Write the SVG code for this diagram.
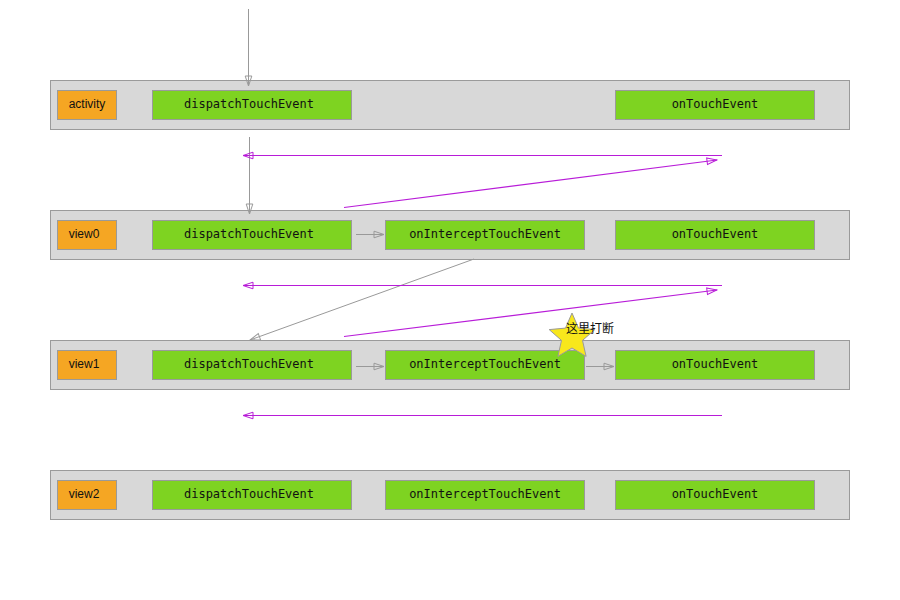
<svg xmlns="http://www.w3.org/2000/svg" width="900" height="600" viewBox="0 0 900 600">
<style>
.row{fill:#d8d8d8;stroke:#9a9a9a;stroke-width:1}
.lbl{fill:#f5a623;stroke:#9a9a9a;stroke-width:1}
.fn{fill:#7ed321;stroke:#9a9a9a;stroke-width:1}
.lt{font-family:"Liberation Sans",Arial,sans-serif;font-size:12px;fill:#111;text-anchor:middle}
.ft{font-family:"DejaVu Sans Mono","Liberation Mono",monospace;font-size:12px;fill:#111;text-anchor:middle}
.g{stroke:#999;stroke-width:1;fill:none}
.p{stroke:#b81cd8;stroke-width:1.2;fill:none}
</style>
<defs>
<marker id="ag" markerUnits="userSpaceOnUse" markerWidth="12" markerHeight="9" refX="11" refY="4.5" orient="auto"><path d="M1,1.2 L11,4.5 L1,7.8 Z" fill="none" stroke="#999" stroke-width="1"/></marker>
<marker id="ap" markerUnits="userSpaceOnUse" markerWidth="12" markerHeight="9" refX="11" refY="4.5" orient="auto"><path d="M1,1.2 L11,4.5 L1,7.8 Z" fill="none" stroke="#b81cd8" stroke-width="1"/></marker>
</defs>
<g id="activity">
<rect class="row" x="50.5" y="80.5" width="799" height="49"/>
<rect class="lbl" x="57.5" y="90.5" width="59" height="29"/><text class="lt" x="87" y="108">activity</text>
<rect class="fn" x="152.5" y="90.5" width="199" height="29"/><text class="ft" x="249" y="108">dispatchTouchEvent</text>
<rect class="fn" x="615.5" y="90.5" width="199" height="29"/><text class="ft" x="715" y="108">onTouchEvent</text>
</g>
<g id="view0">
<rect class="row" x="50.5" y="210.5" width="799" height="49"/>
<rect class="lbl" x="57.5" y="220.5" width="59" height="29"/><text class="lt" x="84" y="238">view0</text>
<rect class="fn" x="152.5" y="220.5" width="199" height="29"/><text class="ft" x="249" y="238">dispatchTouchEvent</text>
<rect class="fn" x="385.5" y="220.5" width="199" height="29"/><text class="ft" x="485" y="238">onInterceptTouchEvent</text>
<rect class="fn" x="615.5" y="220.5" width="199" height="29"/><text class="ft" x="715" y="238">onTouchEvent</text>
</g>
<g id="view1">
<rect class="row" x="50.5" y="340.5" width="799" height="49"/>
<rect class="lbl" x="57.5" y="350.5" width="59" height="29"/><text class="lt" x="84" y="368">view1</text>
<rect class="fn" x="152.5" y="350.5" width="199" height="29"/><text class="ft" x="249" y="368">dispatchTouchEvent</text>
<rect class="fn" x="385.5" y="350.5" width="199" height="29"/><text class="ft" x="485" y="368">onInterceptTouchEvent</text>
<rect class="fn" x="615.5" y="350.5" width="199" height="29"/><text class="ft" x="715" y="368">onTouchEvent</text>
</g>
<g id="view2">
<rect class="row" x="50.5" y="470.5" width="799" height="49"/>
<rect class="lbl" x="57.5" y="480.5" width="59" height="29"/><text class="lt" x="84" y="498">view2</text>
<rect class="fn" x="152.5" y="480.5" width="199" height="29"/><text class="ft" x="249" y="498">dispatchTouchEvent</text>
<rect class="fn" x="385.5" y="480.5" width="199" height="29"/><text class="ft" x="485" y="498">onInterceptTouchEvent</text>
<rect class="fn" x="615.5" y="480.5" width="199" height="29"/><text class="ft" x="715" y="498">onTouchEvent</text>
</g>
<g id="connectors">
<line class="g" x1="248.5" y1="9" x2="248.5" y2="86" marker-end="url(#ag)"/>
<line class="g" x1="249.5" y1="137" x2="249.5" y2="214" marker-end="url(#ag)"/>
<line class="p" x1="722" y1="155.5" x2="243" y2="155.5" marker-end="url(#ap)"/>
<line class="p" x1="344" y1="207.5" x2="717" y2="160" marker-end="url(#ap)"/>
<line class="g" x1="356" y1="234.5" x2="384" y2="234.5" marker-end="url(#ag)"/>
<line class="g" x1="474" y1="259" x2="250" y2="340" marker-end="url(#ag)"/>
<line class="p" x1="722" y1="285.5" x2="243" y2="285.5" marker-end="url(#ap)"/>
<line class="p" x1="344" y1="336.5" x2="717" y2="290" marker-end="url(#ap)"/>
<line class="g" x1="356" y1="366.5" x2="384" y2="366.5" marker-end="url(#ag)"/>
<line class="g" x1="586" y1="366.5" x2="614" y2="366.5" marker-end="url(#ag)"/>
<line class="p" x1="722" y1="415.5" x2="243" y2="415.5" marker-end="url(#ap)"/>
</g>
<g id="interrupt">
<polygon points="572,313 578.5,328.1 594.8,329.6 582.5,340.4 586.1,356.4 572,348 557.9,356.4 561.5,340.4 549.2,329.6 565.5,328.1" fill="#f8e71c" stroke="#9a9a9a" stroke-width="1"/>
<text x="566" y="333" font-family="'Noto Sans CJK SC',sans-serif" font-size="12" fill="#111">这里打断</text>
</g>
</svg>
